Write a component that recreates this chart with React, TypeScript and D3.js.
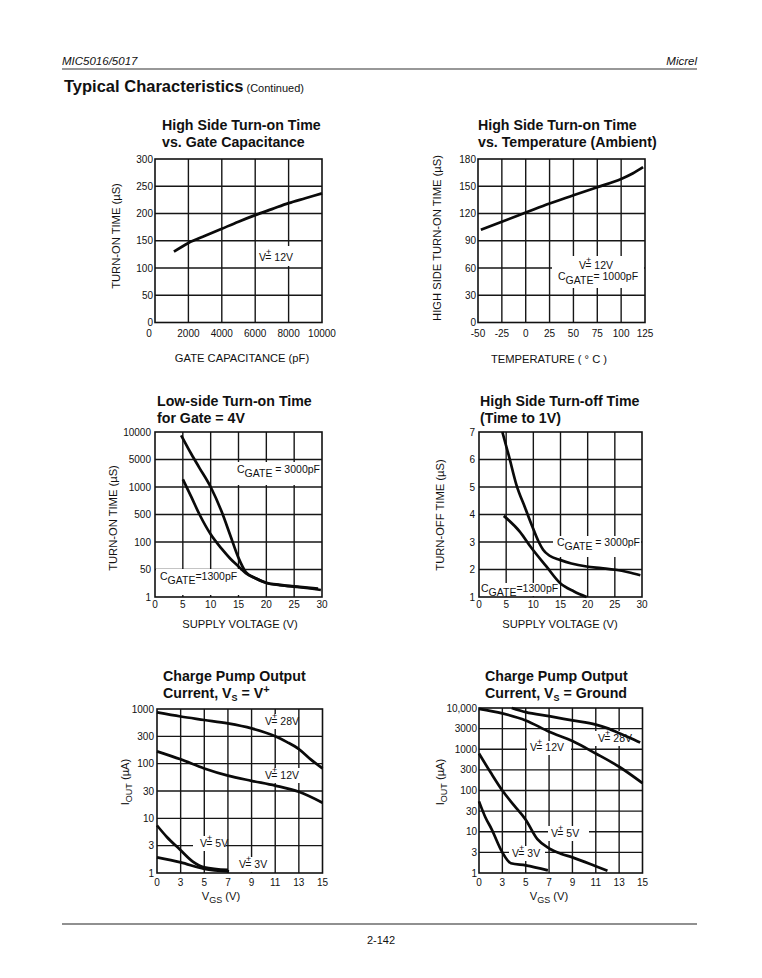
import React from 'react';
import * as d3 from 'd3';

const FONT = "'Liberation Sans', Arial, Helvetica, sans-serif";

// ---------- Chart 1: High Side Turn-on Time vs Gate Capacitance
const c1XTicks = [0, 2000, 4000, 6000, 8000, 10000];
const c1YTicks = [0, 50, 100, 150, 200, 250, 300];
const c1Cap = [1133, 2000, 3000, 4000, 5000, 6000, 7000, 8000, 9000, 10000];
const c1Time = [130, 146, 159, 172, 185, 197, 208, 219, 228, 237];

// ---------- Chart 2: High Side Turn-on Time vs Temperature
const c2XTicks = [-50, -25, 0, 25, 50, 75, 100, 125];
const c2YTicks = [0, 30, 60, 90, 120, 150, 180];
const c2Temp = [-47, -25, 0, 25, 50, 75, 100, 112, 123];
const c2Time = [102, 111, 121, 131, 140, 149, 158, 164, 171];

// ---------- Chart 3: Low-side Turn-on Time for Gate = 4V
const c3XTicks = [0, 5, 10, 15, 20, 25, 30];
const c3YTicks = [1, 50, 100, 500, 1000, 5000, 10000];
const c3V3000 = [4.7, 6.5, 8, 10, 12, 13.5, 15, 16.3, 18, 20, 22.4, 26, 29.3];
const c3T3000 = [9200, 5780, 3030, 1000, 532, 151, 67, 35, 15, 7.6, 5.6, 4.2, 3.3];
const c3V1300 = [5, 6.5, 8, 10, 12, 13.5, 15, 16.3, 18, 20, 22.4, 26, 29.8];
const c3T1300 = [1570, 783, 500, 157, 84, 66, 54, 29.7, 14.5, 7.4, 5.4, 4, 2.7];

// ---------- Chart 4: High Side Turn-off Time
const c4XTicks = [0, 5, 10, 15, 20, 25, 30];
const c4YTicks = [1, 2, 3, 4, 5, 6, 7];
const c4V3000 = [4.3, 5.5, 6.9, 8.5, 9.7, 11, 11.8, 13, 14.9, 17, 19.8, 22.5, 25.1, 27.5, 29.7];
const c4T3000 = [7, 6.13, 5.07, 4.24, 3.62, 3.0, 2.72, 2.5, 2.35, 2.22, 2.11, 2.05, 1.99, 1.9, 1.79];
const c4V1300 = [4.56, 7.5, 9.67, 12.4, 14.9, 17.5, 19.8];
const c4T1300 = [3.95, 3.38, 2.78, 2.11, 1.51, 1.2, 1.0];

// ---------- Chart 5: Charge Pump Output Current, Vs = V+
const c5XTicks = [0, 3, 5, 7, 9, 11, 13, 15];
const c5YTicks = [1, 3, 10, 30, 100, 300, 1000];
const c5X28 = [0, 3, 5, 7, 9, 11, 12, 13, 14, 15];
const c5Y28 = [860, 718, 617, 530, 425, 300, 238, 180, 119, 81];
const c5X12 = [0, 3, 5, 7, 9, 11, 13, 15];
const c5Y12 = [164, 119, 81, 59, 47, 38, 29, 18.7];
const c5X5 = [0, 1.25, 3, 4, 5, 7];
const c5Y5 = [7.3, 4.4, 2.5, 1.6, 1.26, 1.13];
const c5X3 = [0, 3, 5, 7.1];
const c5Y3 = [1.87, 1.53, 1.18, 1.07];

// ---------- Chart 6: Charge Pump Output Current, Vs = Ground
const c6XTicks = [0, 3, 5, 7, 9, 11, 13, 15];
const c6YTicks = [1, 3, 10, 30, 100, 300, 1000, 3000, 10000];
const c6YLabels = ['1', '3', '10', '30', '100', '300', '1000', '3000', '10,000'];
const c6X28 = [3.8, 5, 7, 9, 11, 12.1, 13, 14, 14.8];
const c6Y28 = [10000, 7850, 6200, 4850, 3800, 3000, 2350, 1800, 1435];
const c6X12 = [0, 3, 5, 7, 9, 11, 13, 15];
const c6Y12 = [9500, 7300, 4850, 2550, 1550, 780, 360, 148];
const c6X5 = [0, 1.5, 3, 4, 5, 6, 7, 8, 9, 11, 12];
const c6Y5 = [780, 260, 100, 42, 19, 6.5, 3.8, 2.8, 2.3, 1.44, 1.13];
const c6X3 = [0, 0.8, 1.6, 3, 3.73, 5, 6.9];
const c6Y3 = [53, 22, 11.7, 3, 1.68, 1.5, 1.15];

type Fn = (v: number) => number;

// tick values placed evenly along the axis (piecewise scale), optionally in log space
function evenScale(ticks: number[], r0: number, r1: number, log: boolean): Fn {
  const n = ticks.length - 1;
  const tr = (v: number) => (log ? Math.log10(v) : v);
  const s = d3
    .scaleLinear()
    .domain(ticks.map(tr))
    .range(ticks.map((_, i) => r0 + ((r1 - r0) * i) / n));
  return (v: number) => s(tr(v));
}

const zip = (a: number[], b: number[]) => a.map((v, i) => [v, b[i]] as [number, number]);

interface LabelDef {
  kind: 'vplus' | 'cgate';
  value: string;
  x: number;
  y: number;
  box: [number, number, number, number];
}

function Label({ l }: { l: LabelDef }) {
  const fs = 10.5;
  return (
    <g>
      {l.kind === 'vplus' ? (
        <text x={l.x} y={l.y} fontSize={fs} fontFamily={FONT}>
          V
          <tspan dy={-6} fontSize={9}>+</tspan>
          <tspan dy={6} dx={-6}>{'= ' + l.value}</tspan>
        </text>
      ) : (
        <text x={l.x} y={l.y} fontSize={fs} fontFamily={FONT}>
          C
          <tspan dy={4} fontSize={10.5}>GATE</tspan>
          <tspan dy={-4}>{l.value}</tspan>
        </text>
      )}
    </g>
  );
}

interface PanelProps {
  x0: number; x1: number; y0: number; y1: number;
  xs: Fn; ys: Fn;
  xTicks: number[]; yTicks: number[];
  xLabels?: string[]; yLabels?: string[];
  series: [number, number][][];
  labels: LabelDef[];
  xTickY: number; yTickX: number;
  firstXOffset?: number;
  title: React.ReactNode[];
  titleX: number; titleY: number;
  xTitle: React.ReactNode; xTitleX: number; xTitleY: number;
  yTitle: React.ReactNode; yTitleX: number; yTitleY: number;
}

function Panel(p: PanelProps) {
  const line = d3
    .line<[number, number]>()
    .x((d) => p.xs(d[0]))
    .y((d) => p.ys(d[1]))
    .curve(d3.curveMonotoneX);
  const gridStroke = '#161616';
  return (
    <g fontFamily={FONT} fill="#111">
      {p.title.map((t, i) => (
        <text key={i} x={p.titleX} y={p.titleY + i * 16.5} fontSize={14.2} fontWeight="bold">
          {t}
        </text>
      ))}
      {p.xTicks.slice(1, -1).map((t) => (
        <line key={'gx' + t} x1={p.xs(t)} x2={p.xs(t)} y1={p.y0} y2={p.y1} stroke={gridStroke} strokeWidth={1.4} />
      ))}
      {p.yTicks.slice(1, -1).map((t) => (
        <line key={'gy' + t} x1={p.x0} x2={p.x1} y1={p.ys(t)} y2={p.ys(t)} stroke={gridStroke} strokeWidth={1.4} />
      ))}
      <rect x={p.x0} y={p.y0} width={p.x1 - p.x0} height={p.y1 - p.y0} fill="none" stroke="#111" strokeWidth={1.6} />
      {p.labels.map((l, i) => (
        <rect key={'b' + i} x={l.box[0]} y={l.box[1]} width={l.box[2] - l.box[0]} height={l.box[3] - l.box[1]} fill="#fff" />
      ))}
      {p.series.map((s, i) => (
        <path key={'s' + i} d={line(s) || ''} fill="none" stroke="#0a0a0a" strokeWidth={2.7} strokeLinejoin="round" />
      ))}
      {p.labels.map((l, i) => (
        <Label key={'l' + i} l={l} />
      ))}
      {p.xTicks.map((t, i) => (
        <text
          key={'tx' + t}
          x={p.xs(t) + (i === 0 && p.firstXOffset ? p.firstXOffset : 0)}
          y={p.xTickY}
          fontSize={10}
          textAnchor="middle"
        >
          {p.xLabels ? p.xLabels[i] : String(t)}
        </text>
      ))}
      {p.yTicks.map((t, i) => (
        <text key={'ty' + t} x={p.yTickX} y={p.ys(t)} dy="0.35em" fontSize={10} textAnchor="end">
          {p.yLabels ? p.yLabels[i] : String(t)}
        </text>
      ))}
      <text x={p.xTitleX} y={p.xTitleY} fontSize={11.2} textAnchor="middle">
        {p.xTitle}
      </text>
      <text
        transform={`translate(${p.yTitleX},${p.yTitleY}) rotate(-90)`}
        fontSize={11.2}
        textAnchor="middle"
      >
        {p.yTitle}
      </text>
    </g>
  );
}

export default function App() {
  // chart 1
  const f1 = { x0: 155, x1: 322, y0: 159, y1: 322.5 };
  const xs1 = d3.scaleLinear().domain([0, 10000]).range([f1.x0, f1.x1]);
  const ys1 = d3.scaleLinear().domain([0, 300]).range([f1.y1, f1.y0]);
  // chart 2
  const f2 = { x0: 478, x1: 645, y0: 159, y1: 322.5 };
  const xs2 = d3.scaleLinear().domain([-50, 125]).range([f2.x0, f2.x1]);
  const ys2 = d3.scaleLinear().domain([0, 180]).range([f2.y1, f2.y0]);
  // chart 3
  const f3 = { x0: 155, x1: 322, y0: 432, y1: 597 };
  const xs3 = d3.scaleLinear().domain([0, 30]).range([f3.x0, f3.x1]);
  const ys3 = evenScale(c3YTicks, f3.y1, f3.y0, true);
  // chart 4
  const f4 = { x0: 479, x1: 642, y0: 432, y1: 597 };
  const xs4 = d3.scaleLinear().domain([0, 30]).range([f4.x0, f4.x1]);
  const ys4 = d3.scaleLinear().domain([1, 7]).range([f4.y1, f4.y0]);
  // chart 5
  const f5 = { x0: 157, x1: 322.5, y0: 709, y1: 873 };
  const xs5 = evenScale(c5XTicks, f5.x0, f5.x1, false);
  const ys5 = evenScale(c5YTicks, f5.y1, f5.y0, true);
  // chart 6
  const f6 = { x0: 479, x1: 642.5, y0: 708, y1: 873 };
  const xs6 = evenScale(c6XTicks, f6.x0, f6.x1, false);
  const ys6 = evenScale(c6YTicks, f6.y1, f6.y0, true);

  const sub = (s: string) => (
    <tspan dy={3} fontSize={9}>
      {s}
    </tspan>
  );

  return (
    <svg width={762} height={978} style={{ position: 'absolute', left: 0, top: 0, background: '#fff' }}>
      <rect x={0} y={0} width={762} height={978} fill="#fff" />
      {/* header */}
      <text x={62} y={65} fontFamily={FONT} fontSize={11.5} fontStyle="italic" fill="#111">
        MIC5016/5017
      </text>
      <text x={697} y={65} fontFamily={FONT} fontSize={11.5} fontStyle="italic" textAnchor="end" fill="#111">
        Micrel
      </text>
      <line x1={62} x2={697} y1={69} y2={69} stroke="#333" strokeWidth={1.2} />
      <text x={64} y={92} fontFamily={FONT} fill="#111">
        <tspan fontSize={16.5} fontWeight="bold">Typical Characteristics</tspan>
        <tspan fontSize={11}> (Continued)</tspan>
      </text>

      <Panel
        {...f1}
        xs={xs1}
        ys={ys1}
        xTicks={c1XTicks}
        yTicks={c1YTicks}
        series={[zip(c1Cap, c1Time)]}
        labels={[{ kind: 'vplus', value: '12V', x: 259, y: 261, box: [256, 246, 300, 266] }]}
        xTickY={337}
        yTickX={153}
        firstXOffset={-6}
        title={['High Side Turn-on Time', 'vs. Gate Capacitance']}
        titleX={162}
        titleY={130}
        xTitle="GATE CAPACITANCE (pF)"
        xTitleX={242}
        xTitleY={362}
        yTitle="TURN-ON TIME (µS)"
        yTitleX={120}
        yTitleY={236}
      />

      <Panel
        {...f2}
        xs={xs2}
        ys={ys2}
        xTicks={c2XTicks}
        yTicks={c2YTicks}
        series={[zip(c2Temp, c2Time)]}
        labels={[
          { kind: 'vplus', value: '12V', x: 579, y: 269, box: [552, 256, 644, 288] },
          { kind: 'cgate', value: '= 1000pF', x: 558, y: 280, box: [552, 256, 644, 288] },
        ]}
        xTickY={337}
        yTickX={476}
        title={['High Side Turn-on Time', 'vs. Temperature (Ambient)']}
        titleX={478}
        titleY={130}
        xTitle="TEMPERATURE ( ° C )"
        xTitleX={549}
        xTitleY={363}
        yTitle="HIGH SIDE TURN-ON TIME (µS)"
        yTitleX={441}
        yTitleY={238}
      />

      <Panel
        {...f3}
        xs={xs3}
        ys={ys3}
        xTicks={c3XTicks}
        yTicks={c3YTicks}
        series={[zip(c3V3000, c3T3000), zip(c3V1300, c3T1300)]}
        labels={[
          { kind: 'cgate', value: ' = 3000pF', x: 237, y: 473, box: [233, 462, 321, 485] },
          { kind: 'cgate', value: '=1300pF', x: 160, y: 580, box: [156, 569, 240, 595] },
        ]}
        xTickY={608}
        yTickX={151}
        title={['Low-side Turn-on Time', 'for Gate = 4V']}
        titleX={157}
        titleY={406}
        xTitle="SUPPLY VOLTAGE (V)"
        xTitleX={240}
        xTitleY={628}
        yTitle="TURN-ON TIME (µS)"
        yTitleX={117}
        yTitleY={518}
      />

      <Panel
        {...f4}
        xs={xs4}
        ys={ys4}
        xTicks={c4XTicks}
        yTicks={c4YTicks}
        series={[zip(c4V3000, c4T3000), zip(c4V1300, c4T1300)]}
        labels={[
          { kind: 'cgate', value: ' = 3000pF', x: 557, y: 546, box: [553, 536, 641, 557] },
          { kind: 'cgate', value: '=1300pF', x: 481, y: 592, box: [480, 583, 560, 596] },
        ]}
        xTickY={608}
        yTickX={475}
        title={['High Side Turn-off Time', '(Time to 1V)']}
        titleX={480}
        titleY={406}
        xTitle="SUPPLY VOLTAGE (V)"
        xTitleX={560}
        xTitleY={628}
        yTitle="TURN-OFF TIME (µS)"
        yTitleX={444}
        yTitleY={515}
      />

      <Panel
        {...f5}
        xs={xs5}
        ys={ys5}
        xTicks={c5XTicks}
        yTicks={c5YTicks}
        series={[zip(c5X28, c5Y28), zip(c5X12, c5Y12), zip(c5X5, c5Y5), zip(c5X3, c5Y3)]}
        labels={[
          { kind: 'vplus', value: '28V', x: 265, y: 725, box: [262, 714, 298, 729] },
          { kind: 'vplus', value: '12V', x: 265, y: 779, box: [262, 768, 301, 783] },
          { kind: 'vplus', value: '5V', x: 200, y: 847, box: [193, 836, 226, 851] },
          { kind: 'vplus', value: '3V', x: 239, y: 868, box: [237, 857, 269, 872] },
        ]}
        xTickY={886}
        yTickX={154}
        title={['Charge Pump Output', <tspan key="t">Current,  V{sub('S')}<tspan dy={-3}> = V</tspan><tspan dy={-5} fontSize={11}>+</tspan></tspan>]}
        titleX={163}
        titleY={681}
        xTitle={<tspan>V{sub('GS')}<tspan dy={-3}> (V)</tspan></tspan>}
        xTitleX={221}
        xTitleY={900}
        yTitle={<tspan>I{sub('OUT')}<tspan dy={-3}> (µA)</tspan></tspan>}
        yTitleX={129}
        yTitleY={782}
      />

      <Panel
        {...f6}
        xs={xs6}
        ys={ys6}
        xTicks={c6XTicks}
        yTicks={c6YTicks}
        yLabels={c6YLabels}
        series={[zip(c6X28, c6Y28), zip(c6X12, c6Y12), zip(c6X5, c6Y5), zip(c6X3, c6Y3)]}
        labels={[
          { kind: 'vplus', value: '28V', x: 598, y: 742, box: [595, 731, 641, 746] },
          { kind: 'vplus', value: '12V', x: 530, y: 751, box: [527, 741, 571, 755] },
          { kind: 'vplus', value: '5V', x: 551, y: 837, box: [548, 826, 589, 841] },
          { kind: 'vplus', value: '3V', x: 512, y: 857, box: [509, 846, 545, 861] },
        ]}
        xTickY={886}
        yTickX={477}
        title={['Charge Pump Output', <tspan key="t">Current,  V{sub('S')}<tspan dy={-3}> = Ground</tspan></tspan>]}
        titleX={485}
        titleY={681}
        xTitle={<tspan>V{sub('GS')}<tspan dy={-3}> (V)</tspan></tspan>}
        xTitleX={549}
        xTitleY={900}
        yTitle={<tspan>I{sub('OUT')}<tspan dy={-3}> (µA)</tspan></tspan>}
        yTitleX={444}
        yTitleY={782}
      />

      {/* footer */}
      <line x1={62} x2={697} y1={924} y2={924} stroke="#222" strokeWidth={1.2} />
      <text x={381} y={944} fontFamily={FONT} fontSize={11} textAnchor="middle" fill="#111">
        2-142
      </text>
    </svg>
  );
}
